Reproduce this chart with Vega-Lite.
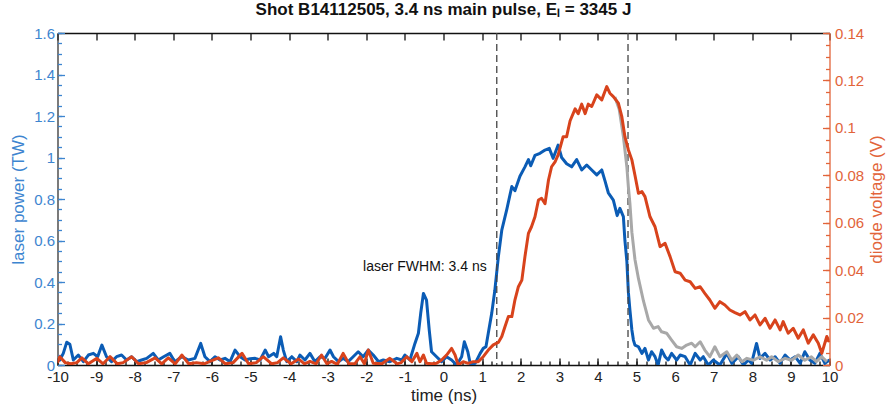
{
  "$schema": "https://vega.github.io/schema/vega-lite/v6.json",
  "width": 772,
  "height": 332,
  "autosize": {"type": "none"},
  "padding": {"left": 57.5, "top": 33, "right": 57.5, "bottom": 41},
  "background": "white",
  "config": {
    "view": {"stroke": null},
    "font": "Liberation Sans",
    "axis": {"grid": false, "labelFont": "Liberation Sans", "titleFont": "Liberation Sans", "labelFontSize": 15, "titleFontSize": 17, "titleFontWeight": "normal", "domainWidth": 1.3, "tickWidth": 1.3, "labelFlush": false, "labelOverlap": false}
  },
  "title": {"text": "Shot B14112505, 3.4 ns main pulse, Eₗ = 3345 J", "fontSize": 17, "fontWeight": "bold", "font": "Liberation Sans", "color": "#111111", "offset": 7},
  "datasets": {
    "power": [
      {"t": -10.0, "p": 0.02}, {"t": -9.94, "p": 0.024}, {"t": -9.85, "p": 0.056}, {"t": -9.76, "p": 0.11}, {"t": -9.68, "p": 0.1}, {"t": -9.59, "p": 0.024}, {"t": -9.46, "p": 0.048}, {"t": -9.33, "p": 0.016}, {"t": -9.2, "p": 0.048}, {"t": -9.07, "p": 0.056}, {"t": -8.96, "p": 0.04}, {"t": -8.85, "p": 0.096}, {"t": -8.73, "p": 0.04}, {"t": -8.6, "p": 0.016}, {"t": -8.47, "p": 0.04}, {"t": -8.34, "p": 0.048}, {"t": -8.21, "p": 0.024}, {"t": -8.08, "p": 0.04}, {"t": -7.95, "p": 0.016}, {"t": -7.82, "p": 0.024}, {"t": -7.69, "p": 0.032}, {"t": -7.52, "p": 0.056}, {"t": -7.39, "p": 0.024}, {"t": -7.25, "p": 0.04}, {"t": -7.09, "p": 0.056}, {"t": -6.96, "p": 0.016}, {"t": -6.78, "p": 0.04}, {"t": -6.61, "p": 0.024}, {"t": -6.44, "p": 0.032}, {"t": -6.29, "p": 0.104}, {"t": -6.18, "p": 0.04}, {"t": -6.05, "p": 0.016}, {"t": -5.92, "p": 0.04}, {"t": -5.79, "p": 0.024}, {"t": -5.66, "p": 0.032}, {"t": -5.53, "p": 0.016}, {"t": -5.4, "p": 0.072}, {"t": -5.27, "p": 0.04}, {"t": -5.14, "p": 0.024}, {"t": -5.01, "p": 0.03}, {"t": -4.88, "p": 0.032}, {"t": -4.75, "p": 0.024}, {"t": -4.62, "p": 0.072}, {"t": -4.53, "p": 0.04}, {"t": -4.4, "p": 0.056}, {"t": -4.32, "p": 0.04}, {"t": -4.22, "p": 0.136}, {"t": -4.15, "p": 0.072}, {"t": -4.06, "p": 0.016}, {"t": -3.93, "p": 0.04}, {"t": -3.8, "p": 0.016}, {"t": -3.72, "p": 0.048}, {"t": -3.59, "p": 0.024}, {"t": -3.46, "p": 0.056}, {"t": -3.33, "p": 0.016}, {"t": -3.2, "p": 0.04}, {"t": -3.07, "p": 0.032}, {"t": -2.94, "p": 0.072}, {"t": -2.85, "p": 0.04}, {"t": -2.72, "p": 0.016}, {"t": -2.6, "p": 0.032}, {"t": -2.47, "p": 0.016}, {"t": -2.34, "p": 0.04}, {"t": -2.21, "p": 0.064}, {"t": -2.08, "p": 0.04}, {"t": -1.95, "p": 0.072}, {"t": -1.82, "p": 0.048}, {"t": -1.68, "p": 0.016}, {"t": -1.56, "p": 0.024}, {"t": -1.39, "p": 0.016}, {"t": -1.21, "p": 0.032}, {"t": -1.08, "p": 0.024}, {"t": -1.0, "p": 0.048}, {"t": -0.87, "p": 0.024}, {"t": -0.74, "p": 0.104}, {"t": -0.65, "p": 0.153}, {"t": -0.59, "p": 0.25}, {"t": -0.52, "p": 0.345}, {"t": -0.44, "p": 0.313}, {"t": -0.37, "p": 0.169}, {"t": -0.31, "p": 0.064}, {"t": -0.18, "p": 0.04}, {"t": -0.05, "p": 0.016}, {"t": 0.08, "p": 0.04}, {"t": 0.21, "p": 0.024}, {"t": 0.34, "p": 0.0}, {"t": 0.47, "p": 0.04}, {"t": 0.54, "p": 0.112}, {"t": 0.63, "p": 0.064}, {"t": 0.7, "p": 0.0}, {"t": 0.82, "p": 0.008}, {"t": 0.95, "p": 0.056}, {"t": 1.03, "p": 0.08}, {"t": 1.1, "p": 0.088}, {"t": 1.16, "p": 0.153}, {"t": 1.25, "p": 0.25}, {"t": 1.33, "p": 0.36}, {"t": 1.42, "p": 0.52}, {"t": 1.51, "p": 0.65}, {"t": 1.64, "p": 0.75}, {"t": 1.77, "p": 0.86}, {"t": 1.85, "p": 0.84}, {"t": 1.98, "p": 0.91}, {"t": 2.11, "p": 0.955}, {"t": 2.2, "p": 0.99}, {"t": 2.26, "p": 0.96}, {"t": 2.37, "p": 1.01}, {"t": 2.5, "p": 1.02}, {"t": 2.63, "p": 1.036}, {"t": 2.74, "p": 1.044}, {"t": 2.84, "p": 0.996}, {"t": 2.97, "p": 1.06}, {"t": 3.06, "p": 1.0}, {"t": 3.19, "p": 0.97}, {"t": 3.32, "p": 0.955}, {"t": 3.45, "p": 0.99}, {"t": 3.58, "p": 0.94}, {"t": 3.71, "p": 0.964}, {"t": 3.84, "p": 0.94}, {"t": 3.97, "p": 0.916}, {"t": 4.1, "p": 0.94}, {"t": 4.18, "p": 0.89}, {"t": 4.27, "p": 0.83}, {"t": 4.4, "p": 0.795}, {"t": 4.5, "p": 0.72}, {"t": 4.57, "p": 0.755}, {"t": 4.66, "p": 0.715}, {"t": 4.7, "p": 0.6}, {"t": 4.75, "p": 0.5}, {"t": 4.79, "p": 0.35}, {"t": 4.83, "p": 0.265}, {"t": 4.88, "p": 0.169}, {"t": 4.92, "p": 0.12}, {"t": 4.96, "p": 0.096}, {"t": 5.05, "p": 0.088}, {"t": 5.14, "p": 0.056}, {"t": 5.22, "p": 0.08}, {"t": 5.31, "p": 0.024}, {"t": 5.39, "p": 0.064}, {"t": 5.48, "p": 0.04}, {"t": 5.56, "p": 0.0}, {"t": 5.65, "p": 0.072}, {"t": 5.74, "p": 0.04}, {"t": 5.82, "p": 0.024}, {"t": 5.91, "p": 0.056}, {"t": 6.04, "p": 0.024}, {"t": 6.13, "p": 0.048}, {"t": 6.26, "p": 0.04}, {"t": 6.39, "p": 0.0}, {"t": 6.52, "p": 0.056}, {"t": 6.65, "p": 0.024}, {"t": 6.73, "p": 0.04}, {"t": 6.86, "p": 0.0}, {"t": 6.99, "p": 0.024}, {"t": 7.16, "p": 0.0}, {"t": 7.34, "p": 0.056}, {"t": 7.47, "p": 0.008}, {"t": 7.64, "p": 0.04}, {"t": 7.77, "p": 0.0}, {"t": 7.9, "p": 0.024}, {"t": 7.98, "p": 0.008}, {"t": 8.11, "p": 0.104}, {"t": 8.2, "p": 0.032}, {"t": 8.33, "p": 0.056}, {"t": 8.46, "p": 0.024}, {"t": 8.59, "p": 0.04}, {"t": 8.72, "p": 0.008}, {"t": 8.85, "p": 0.048}, {"t": 8.98, "p": 0.024}, {"t": 9.11, "p": 0.04}, {"t": 9.24, "p": 0.008}, {"t": 9.36, "p": 0.064}, {"t": 9.49, "p": 0.024}, {"t": 9.62, "p": 0.008}, {"t": 9.75, "p": 0.056}, {"t": 9.88, "p": 0.008}, {"t": 10.0, "p": 0.024}
    ],
    "diode": [
      {"t": -10.0, "v": 0.001}, {"t": -9.94, "v": 0.0035}, {"t": -9.8, "v": 0.001}, {"t": -9.65, "v": 0.0005}, {"t": -9.5, "v": 0.001}, {"t": -9.37, "v": 0.003}, {"t": -9.2, "v": 0.0005}, {"t": -8.98, "v": 0.0028}, {"t": -8.82, "v": 0.0005}, {"t": -8.64, "v": 0.0035}, {"t": -8.45, "v": 0.0005}, {"t": -8.3, "v": 0.001}, {"t": -8.08, "v": 0.0035}, {"t": -7.9, "v": 0.0005}, {"t": -7.7, "v": 0.001}, {"t": -7.47, "v": 0.003}, {"t": -7.3, "v": 0.0005}, {"t": -7.13, "v": 0.003}, {"t": -6.95, "v": 0.0005}, {"t": -6.78, "v": 0.0042}, {"t": -6.6, "v": 0.0005}, {"t": -6.4, "v": 0.001}, {"t": -6.2, "v": 0.0005}, {"t": -6.05, "v": 0.0015}, {"t": -5.83, "v": 0.003}, {"t": -5.65, "v": 0.0005}, {"t": -5.45, "v": 0.001}, {"t": -5.22, "v": 0.0049}, {"t": -5.05, "v": 0.0005}, {"t": -4.85, "v": 0.001}, {"t": -4.67, "v": 0.0035}, {"t": -4.45, "v": 0.0005}, {"t": -4.3, "v": 0.001}, {"t": -4.15, "v": 0.003}, {"t": -3.95, "v": 0.0005}, {"t": -3.75, "v": 0.0025}, {"t": -3.6, "v": 0.0005}, {"t": -3.46, "v": 0.0015}, {"t": -3.3, "v": 0.0005}, {"t": -3.16, "v": 0.0042}, {"t": -3.02, "v": 0.0005}, {"t": -2.9, "v": 0.0015}, {"t": -2.75, "v": 0.0003}, {"t": -2.6, "v": 0.0049}, {"t": -2.45, "v": 0.0005}, {"t": -2.3, "v": 0.0005}, {"t": -2.16, "v": 0.0035}, {"t": -2.05, "v": 0.0005}, {"t": -1.95, "v": 0.0063}, {"t": -1.82, "v": 0.0007}, {"t": -1.6, "v": 0.0005}, {"t": -1.39, "v": 0.0028}, {"t": -1.2, "v": 0.0005}, {"t": -1.1, "v": 0.001}, {"t": -0.95, "v": 0.0035}, {"t": -0.82, "v": 0.0014}, {"t": -0.69, "v": 0.0049}, {"t": -0.61, "v": 0.0014}, {"t": -0.52, "v": 0.0042}, {"t": -0.44, "v": 0.0007}, {"t": -0.3, "v": 0.0005}, {"t": -0.18, "v": 0.0007}, {"t": -0.05, "v": 0.0021}, {"t": 0.08, "v": 0.0042}, {"t": 0.21, "v": 0.007}, {"t": 0.3, "v": 0.0042}, {"t": 0.38, "v": 0.0}, {"t": 0.51, "v": 0.0014}, {"t": 0.64, "v": 0.0007}, {"t": 0.77, "v": 0.0014}, {"t": 0.9, "v": 0.0014}, {"t": 1.03, "v": 0.0035}, {"t": 1.16, "v": 0.0063}, {"t": 1.29, "v": 0.0085}, {"t": 1.42, "v": 0.0095}, {"t": 1.51, "v": 0.012}, {"t": 1.59, "v": 0.016}, {"t": 1.68, "v": 0.0204}, {"t": 1.77, "v": 0.0204}, {"t": 1.85, "v": 0.0274}, {"t": 1.94, "v": 0.033}, {"t": 2.03, "v": 0.0358}, {"t": 2.11, "v": 0.0457}, {"t": 2.2, "v": 0.0555}, {"t": 2.28, "v": 0.0583}, {"t": 2.37, "v": 0.0625}, {"t": 2.46, "v": 0.0696}, {"t": 2.54, "v": 0.0703}, {"t": 2.63, "v": 0.068}, {"t": 2.72, "v": 0.078}, {"t": 2.8, "v": 0.0836}, {"t": 2.89, "v": 0.0857}, {"t": 2.97, "v": 0.0886}, {"t": 3.1, "v": 0.0963}, {"t": 3.19, "v": 0.0963}, {"t": 3.28, "v": 0.103}, {"t": 3.41, "v": 0.108}, {"t": 3.49, "v": 0.106}, {"t": 3.58, "v": 0.11}, {"t": 3.67, "v": 0.106}, {"t": 3.75, "v": 0.11}, {"t": 3.84, "v": 0.109}, {"t": 3.97, "v": 0.1139}, {"t": 4.1, "v": 0.1118}, {"t": 4.23, "v": 0.1174}, {"t": 4.31, "v": 0.1146}, {"t": 4.4, "v": 0.1132}, {"t": 4.53, "v": 0.1104}, {"t": 4.62, "v": 0.1047}, {"t": 4.7, "v": 0.0963}, {"t": 4.79, "v": 0.0907}, {"t": 4.88, "v": 0.0865}, {"t": 4.96, "v": 0.08}, {"t": 5.05, "v": 0.0724}, {"t": 5.14, "v": 0.0731}, {"t": 5.22, "v": 0.071}, {"t": 5.35, "v": 0.0625}, {"t": 5.48, "v": 0.0583}, {"t": 5.61, "v": 0.0499}, {"t": 5.74, "v": 0.0513}, {"t": 5.87, "v": 0.0457}, {"t": 6.0, "v": 0.0393}, {"t": 6.13, "v": 0.0387}, {"t": 6.26, "v": 0.0358}, {"t": 6.39, "v": 0.0351}, {"t": 6.52, "v": 0.0323}, {"t": 6.65, "v": 0.033}, {"t": 6.77, "v": 0.0302}, {"t": 6.9, "v": 0.0274}, {"t": 7.03, "v": 0.0239}, {"t": 7.16, "v": 0.0267}, {"t": 7.29, "v": 0.0253}, {"t": 7.42, "v": 0.0232}, {"t": 7.55, "v": 0.0221}, {"t": 7.68, "v": 0.0211}, {"t": 7.81, "v": 0.0225}, {"t": 7.94, "v": 0.019}, {"t": 8.07, "v": 0.0211}, {"t": 8.2, "v": 0.0169}, {"t": 8.33, "v": 0.0197}, {"t": 8.46, "v": 0.0155}, {"t": 8.59, "v": 0.019}, {"t": 8.72, "v": 0.0148}, {"t": 8.8, "v": 0.0183}, {"t": 8.93, "v": 0.0134}, {"t": 9.06, "v": 0.0155}, {"t": 9.19, "v": 0.0113}, {"t": 9.32, "v": 0.0148}, {"t": 9.45, "v": 0.0092}, {"t": 9.58, "v": 0.0127}, {"t": 9.71, "v": 0.0092}, {"t": 9.8, "v": 0.0049}, {"t": 9.93, "v": 0.012}, {"t": 10.0, "v": 0.0098}
    ],
    "model": [
      {"t": 4.44, "v": 0.113}, {"t": 4.55, "v": 0.108}, {"t": 4.66, "v": 0.0963}, {"t": 4.75, "v": 0.0836}, {"t": 4.79, "v": 0.075}, {"t": 4.83, "v": 0.068}, {"t": 4.88, "v": 0.056}, {"t": 4.96, "v": 0.0445}, {"t": 5.05, "v": 0.0365}, {"t": 5.18, "v": 0.027}, {"t": 5.31, "v": 0.019}, {"t": 5.44, "v": 0.0155}, {"t": 5.56, "v": 0.0162}, {"t": 5.65, "v": 0.014}, {"t": 5.78, "v": 0.0134}, {"t": 5.91, "v": 0.0105}, {"t": 6.04, "v": 0.0077}, {"t": 6.17, "v": 0.007}, {"t": 6.3, "v": 0.0084}, {"t": 6.43, "v": 0.0092}, {"t": 6.52, "v": 0.0077}, {"t": 6.65, "v": 0.0098}, {"t": 6.77, "v": 0.0063}, {"t": 6.9, "v": 0.0035}, {"t": 7.03, "v": 0.0077}, {"t": 7.16, "v": 0.0035}, {"t": 7.34, "v": 0.0056}, {"t": 7.47, "v": 0.002}, {"t": 7.6, "v": 0.0042}, {"t": 7.73, "v": 0.0014}, {"t": 7.86, "v": 0.0028}, {"t": 8.03, "v": 0.002}, {"t": 8.2, "v": 0.0035}, {"t": 8.37, "v": 0.002}, {"t": 8.5, "v": 0.0035}, {"t": 8.67, "v": 0.0014}, {"t": 8.85, "v": 0.0028}, {"t": 9.02, "v": 0.002}, {"t": 9.19, "v": 0.0042}, {"t": 9.36, "v": 0.002}, {"t": 9.53, "v": 0.0035}, {"t": 9.66, "v": 0.0014}, {"t": 9.8, "v": 0.0035}, {"t": 9.93, "v": 0.0014}
    ],
    "fwhm": [{"t": 1.38}, {"t": 4.78}],
    "note": [{"t": 1.12, "p": 0.47, "label": "laser FWHM: 3.4 ns"}]
  },
  "layer": [
    {
      "layer": [
        {
          "data": {"name": "power"},
          "mark": {"type": "line", "color": "#0b5cb5", "strokeWidth": 3, "clip": true, "strokeJoin": "round"},
          "encoding": {
            "x": {"field": "t", "type": "quantitative", "scale": {"domain": [-10, 10], "nice": false, "zero": false},
              "axis": {"orient": "bottom", "values": [-10,-9,-8,-7,-6,-5,-4,-3,-2,-1,0,1,2,3,4,5,6,7,8,9,10], "labelExpr": "'' + datum.value", "tickSize": -7, "labelPadding": 11, "title": "time (ns)", "titlePadding": 3, "domainColor": "#111111", "tickColor": "#111111", "labelColor": "#222222", "titleColor": "#222222"}},
            "y": {"field": "p", "type": "quantitative", "scale": {"domain": [0, 1.6], "nice": false},
              "axis": {"orient": "left", "values": [0,0.2,0.4,0.6,0.8,1,1.2,1.4,1.6], "labelExpr": "'' + datum.value", "tickSize": -7, "labelPadding": 10, "title": "laser power (TW)", "titlePadding": 6, "domainColor": "#333333", "tickColor": "#3d85d0", "labelColor": "#3d85d0", "titleColor": "#3d85d0"}}
          }
        },
        {
          "data": {"name": "note"},
          "mark": {"type": "text", "align": "right", "baseline": "middle", "fontSize": 14, "color": "#111111", "font": "Liberation Sans"},
          "encoding": {
            "x": {"field": "t", "type": "quantitative", "scale": {"domain": [-10, 10], "nice": false, "zero": false},
              "axis": {"orient": "bottom", "values": [-10,-9.75,-9.5,-9.25,-9,-8.75,-8.5,-8.25,-8,-7.75,-7.5,-7.25,-7,-6.75,-6.5,-6.25,-6,-5.75,-5.5,-5.25,-5,-4.75,-4.5,-4.25,-4,-3.75,-3.5,-3.25,-3,-2.75,-2.5,-2.25,-2,-1.75,-1.5,-1.25,-1,-0.75,-0.5,-0.25,0,0.25,0.5,0.75,1,1.25,1.5,1.75,2,2.25,2.5,2.75,3,3.25,3.5,3.75,4,4.25,4.5,4.75,5,5.25,5.5,5.75,6,6.25,6.5,6.75,7,7.25,7.5,7.75,8,8.25,8.5,8.75,9,9.25,9.5,9.75,10], "tickSize": -4, "labels": false, "domain": false, "title": null, "tickColor": "#111111"}},
            "y": {"field": "p", "type": "quantitative", "scale": {"domain": [0, 1.6], "nice": false},
              "axis": {"orient": "left", "values": [0,0.05,0.1,0.15,0.2,0.25,0.3,0.35,0.4,0.45,0.5,0.55,0.6,0.65,0.7,0.75,0.8,0.85,0.9,0.95,1,1.05,1.1,1.15,1.2,1.25,1.3,1.35,1.4,1.45,1.5,1.55,1.6], "tickSize": -4, "labels": false, "domain": false, "title": null, "tickColor": "#3d85d0"}},
            "text": {"field": "label", "type": "nominal"}
          }
        },
        {
          "data": {"name": "fwhm"},
          "mark": {"type": "rule", "strokeDash": [7, 4], "color": "#444444", "strokeWidth": 1.3},
          "encoding": {
            "x": {"field": "t", "type": "quantitative", "scale": {"domain": [-10, 10], "nice": false, "zero": false},
              "axis": {"orient": "top", "values": [-10,-9,-8,-7,-6,-5,-4,-3,-2,-1,0,1,2,3,4,5,6,7,8,9,10], "tickSize": -7, "labels": false, "title": null, "domainColor": "#111111", "tickColor": "#111111"}}
          }
        }
      ],
      "resolve": {"axis": {"x": "independent", "y": "independent"}}
    },
    {
      "layer": [
        {
          "data": {"name": "model"},
          "mark": {"type": "line", "color": "#a8a8a8", "strokeWidth": 3, "clip": true, "strokeJoin": "round"},
          "encoding": {
            "x": {"field": "t", "type": "quantitative", "scale": {"domain": [-10, 10], "nice": false, "zero": false}, "axis": null},
            "y": {"field": "v", "type": "quantitative", "scale": {"domain": [0, 0.14], "nice": false},
              "axis": {"orient": "right", "values": [0,0.02,0.04,0.06,0.08,0.1,0.12,0.14], "labelExpr": "'' + datum.value", "tickSize": -7, "labelPadding": 12, "title": "diode voltage (V)", "titleAngle": 270, "titleBaseline": "top", "titlePadding": 5, "domainColor": "#e2643a", "tickColor": "#e2643a", "labelColor": "#e2643a", "titleColor": "#e2643a"}}
          }
        },
        {
          "data": {"name": "diode"},
          "mark": {"type": "line", "color": "#d8431c", "strokeWidth": 3, "clip": true, "strokeJoin": "round"},
          "encoding": {
            "x": {"field": "t", "type": "quantitative", "scale": {"domain": [-10, 10], "nice": false, "zero": false}, "axis": null},
            "y": {"field": "v", "type": "quantitative", "scale": {"domain": [0, 0.14], "nice": false},
              "axis": {"orient": "right", "values": [0,0.005,0.01,0.015,0.02,0.025,0.03,0.035,0.04,0.045,0.05,0.055,0.06,0.065,0.07,0.075,0.08,0.085,0.09,0.095,0.1,0.105,0.11,0.115,0.12,0.125,0.13,0.135,0.14], "tickSize": -4, "labels": false, "domain": false, "title": null, "tickColor": "#e2643a"}}
          }
        }
      ],
      "resolve": {"axis": {"x": "independent", "y": "independent"}}
    }
  ],
  "resolve": {"scale": {"y": "independent"}, "axis": {"x": "independent", "y": "independent"}}
}
